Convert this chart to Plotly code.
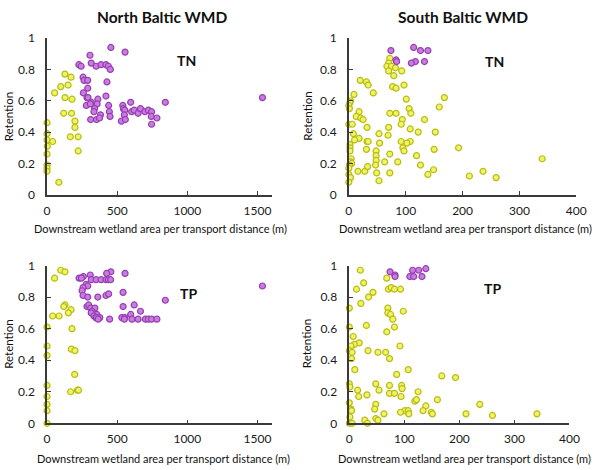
import plotly.graph_objects as go

# North Baltic WMD, TN
nb_tn_wet_x = [455, 556, 306, 227, 243, 315, 350, 385, 420, 437, 451, 257, 264, 290, 427, 290, 259, 285,
               292, 362, 420, 315, 280, 308, 357, 339, 334, 381, 311, 353, 374, 439, 444, 449, 540, 544,
               554, 551, 530, 558, 596, 603, 621, 649, 666, 698, 722, 745, 743, 783, 745, 843, 1535]
nb_tn_wet_y = [0.94, 0.91, 0.89, 0.83, 0.82, 0.84, 0.82, 0.83, 0.83, 0.82, 0.80, 0.75, 0.73, 0.73, 0.72,
               0.68, 0.65, 0.62, 0.62, 0.61, 0.63, 0.59, 0.57, 0.58, 0.58, 0.55, 0.53, 0.51, 0.48, 0.48,
               0.49, 0.57, 0.53, 0.50, 0.57, 0.55, 0.54, 0.51, 0.47, 0.48, 0.59, 0.53, 0.54, 0.52, 0.55,
               0.53, 0.54, 0.53, 0.50, 0.49, 0.45, 0.59, 0.62]
nb_tn_oth_x = [128, 171, 98, 150, 54, 128, 178, 119, 175, 199, 199, 222, 166, 222, 40, 84, 0, 0, 0, 2, 0, 0, 0, 0]
nb_tn_oth_y = [0.77, 0.75, 0.69, 0.70, 0.65, 0.62, 0.61, 0.52, 0.52, 0.47, 0.43, 0.37, 0.37, 0.28, 0.34,
               0.08, 0.46, 0.39, 0.35, 0.31, 0.26, 0.19, 0.17, 0.15]

# South Baltic WMD, TN
sb_tn_wet_x = [74, 114, 126, 139, 83, 84, 117, 110, 133]
sb_tn_wet_y = [0.92, 0.94, 0.92, 0.92, 0.86, 0.85, 0.85, 0.84, 0.85]
sb_tn_oth_x = [72, 70, 67, 75, 70, 82, 79, 93, 20, 31, 34, 43, 77, 83, 97, 9, 3, 2, 0, 1, 101, 168, 159,
               106, 109, 72, 83, 18, 13, 21, 25, 94, 92, 133, 0, 6, 32, 70, 108, 122, 152, 8, 53, 69, 18,
               10, 32, 34, 92, 108, 102, 54, 2, 2, 2, 31, 48, 95, 97, 150, 193, 48, 119, 48, 72, 86, 63,
               47, 126, 4, 3, 5, 1, 0, 16, 28, 33, 49, 72, 0, 139, 149, 3, 53, 0, 212, 236, 259, 340]
sb_tn_oth_y = [0.87, 0.84, 0.82, 0.82, 0.79, 0.81, 0.76, 0.79, 0.73, 0.72, 0.70, 0.65, 0.69, 0.68, 0.70,
               0.64, 0.60, 0.59, 0.57, 0.55, 0.61, 0.62, 0.56, 0.55, 0.52, 0.52, 0.52, 0.53, 0.50, 0.49,
               0.48, 0.48, 0.45, 0.48, 0.45, 0.45, 0.43, 0.43, 0.42, 0.40, 0.40, 0.39, 0.39, 0.38, 0.36,
               0.35, 0.34, 0.34, 0.34, 0.34, 0.33, 0.33, 0.32, 0.30, 0.28, 0.29, 0.28, 0.30, 0.28, 0.29,
               0.30, 0.25, 0.25, 0.22, 0.26, 0.21, 0.21, 0.19, 0.19, 0.23, 0.21, 0.20, 0.19, 0.17, 0.15,
               0.15, 0.18, 0.14, 0.14, 0.13, 0.13, 0.16, 0.11, 0.09, 0.08, 0.12, 0.15, 0.11, 0.23]

# North Baltic WMD, TP
nb_tp_wet_x = [556, 455, 425, 308, 259, 229, 245, 315, 350, 385, 420, 437, 453, 278, 290, 257, 250, 542,
               257, 290, 362, 420, 439, 843, 1535, 285, 297, 311, 341, 542, 621, 666, 320, 315, 355, 334,
               348, 376, 353, 364, 446, 533, 554, 551, 596, 605, 649, 701, 722, 745, 783]
nb_tp_wet_y = [0.95, 0.96, 0.95, 0.94, 0.93, 0.92, 0.92, 0.91, 0.91, 0.91, 0.91, 0.91, 0.91, 0.88, 0.87,
               0.86, 0.84, 0.83, 0.81, 0.80, 0.80, 0.81, 0.82, 0.78, 0.87, 0.74, 0.75, 0.73, 0.73, 0.74,
               0.75, 0.71, 0.71, 0.70, 0.69, 0.68, 0.67, 0.67, 0.67, 0.66, 0.66, 0.67, 0.67, 0.66, 0.69,
               0.66, 0.66, 0.66, 0.66, 0.66, 0.66]
nb_tp_oth_x = [98, 128, 54, 128, 119, 171, 152, 40, 86, 178, 0, 173, 199, 0, 0, 197, 168, 217, 224, 0, 0, 0, 0, 0]
nb_tp_oth_y = [0.97, 0.96, 0.92, 0.75, 0.74, 0.72, 0.70, 0.68, 0.68, 0.60, 0.61, 0.47, 0.46, 0.49, 0.43,
               0.31, 0.20, 0.21, 0.21, 0.24, 0.17, 0.12, 0.08, 0.0]

# South Baltic WMD, TP
sb_tp_wet_x = [74, 83, 83, 115, 126, 139, 110, 117, 132]
sb_tp_wet_y = [0.96, 0.94, 0.93, 0.97, 0.97, 0.98, 0.93, 0.93, 0.93]
sb_tp_oth_x = [20, 68, 26, 13, 43, 35, 21, 71, 76, 82, 93, 0, 70, 70, 75, 79, 98, 0, 31, 82, 68, 7, 18, 9,
               3, 0, 5, 34, 52, 66, 92, 73, 4, 10, 86, 107, 168, 193, 0, 1, 15, 48, 54, 73, 95, 96, 17,
               32, 73, 82, 94, 125, 119, 122, 139, 160, 134, 149, 151, 101, 107, 108, 93, 48, 46, 63, 48,
               52, 28, 33, 0, 3, 4, 1, 0, 5, 212, 237, 260, 341]
sb_tp_oth_y = [0.97, 0.92, 0.89, 0.85, 0.83, 0.80, 0.76, 0.85, 0.86, 0.85, 0.85, 0.73, 0.73, 0.70, 0.69,
               0.66, 0.71, 0.61, 0.62, 0.61, 0.58, 0.55, 0.51, 0.50, 0.49, 0.46, 0.45, 0.46, 0.45, 0.45,
               0.49, 0.41, 0.41, 0.34, 0.31, 0.34, 0.30, 0.29, 0.25, 0.23, 0.21, 0.25, 0.21, 0.24, 0.24,
               0.22, 0.17, 0.18, 0.19, 0.19, 0.17, 0.20, 0.14, 0.15, 0.11, 0.15, 0.08, 0.07, 0.06, 0.08,
               0.08, 0.06, 0.07, 0.12, 0.09, 0.06, 0.03, 0.02, 0.02, 0.0, 0.13, 0.09, 0.08, 0.04, 0.0,
               0.0, 0.06, 0.12, 0.05, 0.06]

YEL_FILL, YEL_LINE = "#EEF36A", "#B9BC10"
PUR_FILL, PUR_LINE = "#CB7BE0", "#9440B0"
AXIS = "#3a3a3a"
FONT = "Lato"
W, H = 600, 470


def px_x(p):
    return p / W


def px_y(p):
    return 1 - p / H


def dots(x, y, fill, line, n):
    return go.Scatter(x=x, y=y, mode="markers", xaxis="x" + n, yaxis="y" + n, cliponaxis=False,
                      showlegend=False,
                      marker=dict(size=6, color=fill, line=dict(color=line, width=1.2)))


def axis(domain, rng, dtick, anchor, standoff):
    return dict(domain=domain, range=rng, dtick=dtick, anchor=anchor, showline=True, linecolor=AXIS,
                linewidth=1.5, ticks="inside", ticklen=4, tickcolor=AXIS, tickwidth=1.2,
                showgrid=False, zeroline=False, ticklabelstandoff=standoff,
                tickfont=dict(family=FONT, size=12, color="#1a1a1a"))


panels = [
    ("", nb_tn_oth_x, nb_tn_oth_y, nb_tn_wet_x, nb_tn_wet_y),
    ("2", sb_tn_oth_x, sb_tn_oth_y, sb_tn_wet_x, sb_tn_wet_y),
    ("3", nb_tp_oth_x, nb_tp_oth_y, nb_tp_wet_x, nb_tp_wet_y),
    ("4", sb_tp_oth_x, sb_tp_oth_y, sb_tp_wet_x, sb_tp_wet_y),
]

fig = go.Figure()
for n, ox, oy, wx, wy in panels:
    fig.add_trace(dots(ox, oy, YEL_FILL, YEL_LINE, n))
    fig.add_trace(dots(wx, wy, PUR_FILL, PUR_LINE, n))

top = [px_y(193), px_y(31)]
bot = [px_y(429), px_y(266)]
fig.update_layout(
    width=W, height=H,
    margin=dict(l=0, r=0, t=0, b=0),
    paper_bgcolor="white", plot_bgcolor="white",
    font=dict(family=FONT, color="#1a1a1a"),
    xaxis=axis([px_x(45), px_x(274.5)], [0, 1600], 500, "y", 4),
    yaxis=axis(top, [0, 1], 0.2, "x", 8),
    xaxis2=axis([px_x(353.5), px_x(586)], [0, 400], 100, "y2", 4),
    yaxis2=axis(top, [0, 1], 0.2, "x2", 8),
    xaxis3=axis([px_x(45), px_x(274.5)], [0, 1600], 500, "y3", 4),
    yaxis3=axis(bot, [0, 1], 0.2, "x3", 8),
    xaxis4=axis([px_x(354), px_x(579)], [0, 400], 100, "y4", 4),
    yaxis4=axis(bot, [0, 1], 0.2, "x4", 8),
)

xlab = "Downstream wetland area per transport distance (m)"
notes = [
    ("<b>North Baltic WMD</b>", 163, 9, 15.5, 0),
    ("<b>South Baltic WMD</b>", 470, 9, 15.5, 0),
    ("<b>TN</b>", 188, 54, 14, 0),
    ("<b>TN</b>", 502, 55, 14, 0),
    ("<b>TP</b>", 190, 295, 14, 0),
    ("<b>TP</b>", 500, 290, 14, 0),
    (xlab, 161, 228, 11, 0),
    (xlab, 473, 228, 11, 0),
    (xlab, 164, 465, 11, 0),
    (xlab, 472, 465, 11, 0),
    ("Retention", 6, 112, 11.5, -90),
    ("Retention", 311, 112, 11.5, -90),
    ("Retention", 6, 347, 11.5, -90),
    ("Retention", 311, 347, 11.5, -90),
]
for text, x, y, size, ang in notes:
    fig.add_annotation(text=text, x=px_x(x), y=px_y(y), xref="paper", yref="paper",
                       showarrow=False, xanchor="center", yanchor="middle", textangle=ang,
                       font=dict(family=FONT, size=size, color="#111111"))

# the page's default body margin and scrollbars would push the figure off the 600x470 window
page_fix = ("document.body.style.margin='0';"
            "document.body.style.overflow='hidden';"
            "document.documentElement.style.overflow='hidden';")
fig.write_html("out.html", post_script=page_fix, config={"displayModeBar": False})
